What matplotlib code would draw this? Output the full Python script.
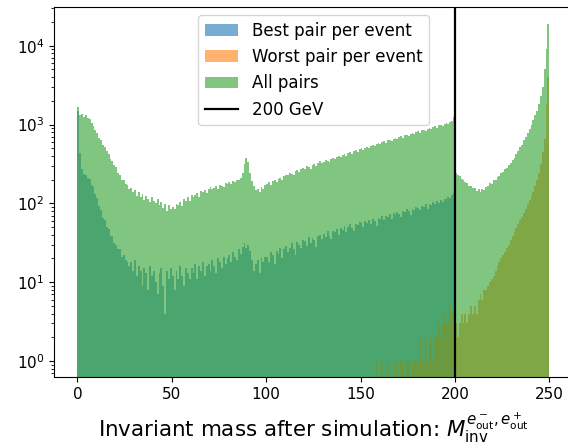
import numpy as np
import matplotlib
matplotlib.use("Agg")
import matplotlib.pyplot as plt

# 1 GeV bins from 0 to 250
bin_edges = list(range(0, 251))

best_pair = [
    1500, 430, 275, 236, 228, 210, 204, 172, 160, 131,
    118, 92, 83, 66, 62, 50, 47, 39, 38, 31,
    30, 26, 26, 21, 22, 19, 18, 16, 18, 14,
    19, 12, 16, 14, 9, 15, 13, 8, 16, 12,
    14, 10, 7, 13, 15, 9, 4, 14, 11, 15,
    12, 8, 14, 11, 16, 12, 9, 15, 13, 11,
    15, 13, 17, 11, 16, 14, 18, 12, 16, 17,
    14, 19, 16, 13, 20, 18, 15, 21, 17, 20,
    22, 18, 24, 21, 19, 26, 23, 28, 31, 27,
    30, 25, 19, 14, 17, 19, 13, 20, 18, 21,
    21, 18, 24, 22, 17, 25, 23, 27, 20, 26,
    29, 24, 27, 31, 26, 22, 32, 30, 27, 34,
    33, 29, 37, 31, 36, 34, 28, 38, 40, 35,
    41, 37, 44, 39, 35, 45, 43, 47, 40, 48,
    46, 51, 43, 50, 54, 48, 44, 55, 53, 58,
    56, 50, 60, 57, 62, 55, 64, 59, 52, 66,
    63, 69, 61, 70, 67, 73, 64, 75, 71, 78,
    74, 68, 80, 77, 84, 79, 72, 86, 83, 90,
    88, 82, 93, 90, 97, 86, 99, 95, 103, 98,
    106, 101, 110, 104, 115, 112, 120, 117, 126, 136,
    0, 0, 0, 0, 0, 0, 0, 0, 0, 0,
    0, 0, 0, 0, 0, 0, 0, 0, 0, 0,
    0, 0, 0, 0, 0, 0, 0, 0, 0, 0,
    0, 0, 0, 0, 0, 0, 0, 0, 0, 0,
    0, 0, 0, 0, 0, 0, 0, 0, 0, 0,
]

worst_pair = [0] * 158 + [
    1, 0,
    0, 1, 0, 0, 1, 0, 0, 1, 0, 1,
    0, 1, 1, 0, 1, 1, 0, 1, 1, 1,
    1, 2, 1, 1, 2, 1, 2, 2, 1, 2,
    2, 3, 2, 3, 4, 3, 3, 5, 4, 3,
    3, 2, 3, 4, 3, 4, 3, 4, 5, 4,
    5, 4, 6, 7, 6, 8, 8, 9, 10, 11,
    12, 14, 16, 18, 20, 22, 24, 27, 30, 34,
    38, 43, 48, 55, 62, 68, 75, 85, 98, 110,
    120, 140, 165, 195, 240, 320, 450, 650, 1800, 4000,
]

all_pairs = [
    1650, 1310, 1350, 1240, 1330, 1200, 1160, 1040, 950, 850,
    790, 670, 630, 550, 520, 460, 425, 370, 345, 305,
    285, 245, 228, 200, 198, 175, 172, 150, 156, 139,
    146, 125, 138, 121, 132, 110, 124, 114, 105, 119,
    108, 100, 113, 94, 104, 88, 99, 80, 94, 86,
    90, 84, 99, 95, 104, 92, 113, 106, 119, 108,
    126, 120, 128, 134, 122, 142, 138, 148, 135, 154,
    160, 150, 157, 166, 152, 172, 168, 160, 181, 176,
    186, 178, 194, 188, 200, 196, 212, 245, 318, 372,
    330, 240, 190, 165, 146, 152, 141, 160, 150, 172,
    176, 184, 170, 190, 196, 185, 204, 210, 198, 224,
    232, 226, 246, 238, 230, 258, 266, 248, 274, 280,
    272, 296, 288, 276, 310, 318, 300, 322, 340, 328,
    336, 358, 344, 330, 366, 378, 360, 392, 400, 384,
    408, 420, 398, 436, 446, 424, 458, 470, 452, 488,
    498, 476, 510, 524, 500, 540, 552, 530, 568, 580,
    560, 596, 610, 585, 628, 640, 612, 662, 676, 650,
    694, 708, 680, 726, 740, 712, 762, 780, 748, 802,
    818, 790, 846, 860, 826, 884, 902, 870, 928, 948,
    914, 976, 996, 960, 1028, 1050, 1010, 1090, 1120, 1230,
    240, 228, 222, 205, 200, 186, 182, 168, 166, 156,
    158, 145, 150, 140, 152, 148, 162, 165, 180, 178,
    196, 200, 218, 222, 243, 250, 272, 280, 308, 325,
    356, 380, 422, 455, 512, 555, 632, 695, 785, 875,
    1000, 1150, 1320, 1500, 1800, 2300, 3000, 5000, 9000, 19000,
]

x_ticks = [0, 50, 100, 150, 200, 250]
cut_value = 200

edges = np.array(bin_edges, dtype=float)
centers = 0.5 * (edges[:-1] + edges[1:])

fig = plt.figure(figsize=(5.68, 4.46), dpi=100)
ax = fig.add_axes([0.0951, 0.154, 0.914, 0.831])

ax.hist(centers, bins=edges, weights=best_pair, histtype="stepfilled",
        alpha=0.6, color="C0", label="Best pair per event")
ax.hist(centers, bins=edges, weights=worst_pair, histtype="stepfilled",
        alpha=0.6, color="C1", label="Worst pair per event")
ax.hist(centers, bins=edges, weights=all_pairs, histtype="stepfilled",
        alpha=0.6, color="C2", label="All pairs")
ax.axvline(cut_value, color="black", lw=1.6, label="200 GeV")

ax.set_yscale("log")
ax.set_ylim(0.622, 31200)
ax.set_xlim(-12.4, 262.6)
ax.set_xticks(x_ticks)
ax.tick_params(labelsize=11)
ax.spines["right"].set_visible(False)

ax.legend(loc="upper center", fontsize=12)
ax.set_xlabel(r"Invariant mass after simulation: $M_{\mathrm{inv}}^{e^-_{\mathrm{out}}, e^+_{\mathrm{out}}}$",
              fontsize=15.4, labelpad=6)

fig.savefig("out.png", dpi=100)
